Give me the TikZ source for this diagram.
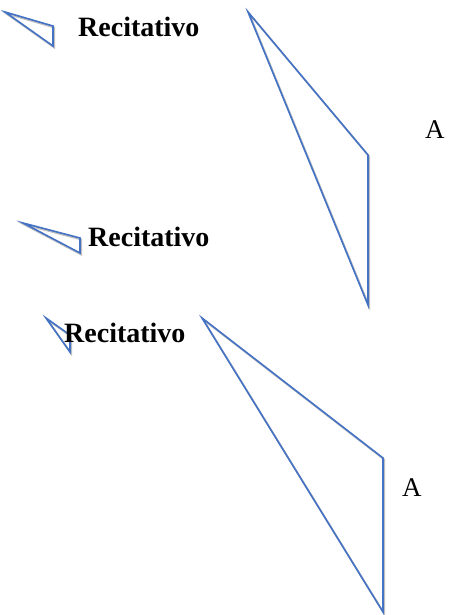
\documentclass[tikz,border=0pt]{standalone}
\usepackage{fontspec}
\setmainfont{Liberation Serif}
\definecolor{wordblue}{HTML}{4472C4}
\tikzset{
  brace/.style={draw=wordblue, line width=1.6pt, line join=miter},
  braceshadow/.style={draw=black!25, line width=1.8pt},
  rlabel/.style={font=\fontsize{28}{30}\selectfont\bfseries, inner sep=0pt, anchor=base west},
  alabel/.style={font=\fontsize{27}{30}\selectfont, inner sep=0pt, anchor=base west}
}
\begin{document}
\begin{tikzpicture}[x=1pt,y=-1pt]
\useasboundingbox (0,0) rectangle (467,615);
% shadows
\foreach \a/\b/\c in {{(5,12)}/{(53,26)}/{(53,46)}, {(23,223)}/{(80,238)}/{(80,253)}, {(46,318)}/{(70,335)}/{(70,352)}, {(248,12)}/{(368,155)}/{(368,305)}, {(202,318)}/{(383,458)}/{(383,612)}}
  \draw[braceshadow, shift={(1.2,1.5)}] \a -- \b -- \c -- cycle;
% small triangles
\coordinate (s1a) at (5,12);   \coordinate (s1b) at (53,26);  \coordinate (s1c) at (53,46);
\coordinate (s2a) at (23,223); \coordinate (s2b) at (80,238); \coordinate (s2c) at (80,253);
\coordinate (s3a) at (46,318); \coordinate (s3b) at (70,335); \coordinate (s3c) at (70,352);
% large triangles
\coordinate (b1a) at (248,12);  \coordinate (b1b) at (368,155); \coordinate (b1c) at (368,305);
\coordinate (b2a) at (202,318); \coordinate (b2b) at (383,458); \coordinate (b2c) at (383,612);
\draw[brace] (s1a) -- (s1b) -- (s1c) -- cycle;
\draw[brace] (s2a) -- (s2b) -- (s2c) -- cycle;
\draw[brace] (s3a) -- (s3b) -- (s3c) -- cycle;
\draw[brace] (b1a) -- (b1b) -- (b1c) -- cycle;
\draw[brace] (b2a) -- (b2b) -- (b2c) -- cycle;
% labels
\node[rlabel] (r1) at (78,37) {Recitativo};
\node[rlabel] (r2) at (88,246) {Recitativo};
\node[rlabel] (r3) at (64,342) {Recitativo};
\node[alabel] (a1) at (425,139) {A};
\node[alabel] (a2) at (402,496) {A};
\end{tikzpicture}
\end{document}
